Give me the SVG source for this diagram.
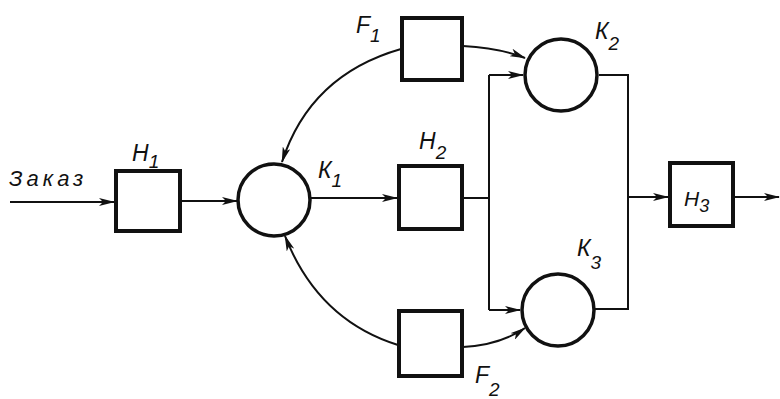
<svg xmlns="http://www.w3.org/2000/svg" width="780" height="399" viewBox="0 0 780 399">
<style>
.box{fill:#fff;stroke:#111;stroke-width:4}
.srv{fill:#fff;stroke:#111;stroke-width:3.5}
.ln{fill:none;stroke:#111;stroke-width:2}
.ar{fill:none;stroke:#111;stroke-width:2;marker-end:url(#ah)}
.lb{font-family:"Liberation Sans",Arial,sans-serif;font-style:italic;font-size:23px;fill:#111}
.sb{font-size:19px}
</style>
<defs>
<marker id="ah" viewBox="0 0 16 8" refX="15" refY="4" markerWidth="16" markerHeight="8" markerUnits="userSpaceOnUse" orient="auto">
<path d="M0,0 L16,4 L0,8 L4,4 Z" fill="#111"/>
</marker>
</defs>
<rect width="780" height="399" fill="#fff"/>
<g id="connectors">
<path class="ar" d="M10,202 L114,202"/>
<path class="ar" d="M181,201 L237,201"/>
<path class="ar" d="M311,198 L397,198"/>
<path class="ln" d="M463,198 L489,198"/>
<path class="ln" d="M489,75 L489,310"/>
<path class="ar" d="M489,75 L523,75"/>
<path class="ar" d="M489,310 L520,310"/>
<path class="ar" d="M463,46 Q500,48 525,58"/>
<path class="ar" d="M463,347 Q500,345 525,328"/>
<path class="ar" d="M401,49 Q310,75 282,162"/>
<path class="ar" d="M398,345 Q318,320 285,236"/>
<path class="ln" d="M599,75 L628,75 L628,309 L594,309"/>
<path class="ar" d="M628,197 L668,197"/>
<path class="ar" d="M734,197 L779,197"/>
</g>
<g id="H1"><rect class="box" x="116" y="171" width="64" height="60"/></g>
<g id="K1"><circle class="srv" cx="274" cy="200" r="36"/></g>
<g id="H2"><rect class="box" x="399" y="166" width="63" height="63"/></g>
<g id="F1"><rect class="box" x="402" y="18" width="60" height="62"/></g>
<g id="F2"><rect class="box" x="399" y="311" width="63" height="65"/></g>
<g id="K2"><circle class="srv" cx="561" cy="75" r="36"/></g>
<g id="K3"><circle class="srv" cx="558" cy="310" r="36"/></g>
<g id="H3"><rect class="box" x="670" y="163" width="63" height="63"/></g>
<g id="labels">
<text class="lb" x="9" y="186" style="font-size:22px;letter-spacing:4px">Заказ</text>
<text class="lb" x="132" y="161">Н<tspan class="sb" dy="7">1</tspan></text>
<text class="lb" x="318" y="178">К<tspan class="sb" dy="9">1</tspan></text>
<text class="lb" x="419" y="149">Н<tspan class="sb" dy="10">2</tspan></text>
<text class="lb" x="356" y="33">F<tspan class="sb" dy="9">1</tspan></text>
<text class="lb" x="595" y="39">К<tspan class="sb" dy="11">2</tspan></text>
<text class="lb" x="577" y="256">К<tspan class="sb" dy="13">3</tspan></text>
<text class="lb" x="475" y="383">F<tspan class="sb" dy="13">2</tspan></text>
<text class="lb" x="684" y="206" style="font-size:21px">Н<tspan class="sb" dy="6" style="font-size:18px">3</tspan></text>
</g>
</svg>
